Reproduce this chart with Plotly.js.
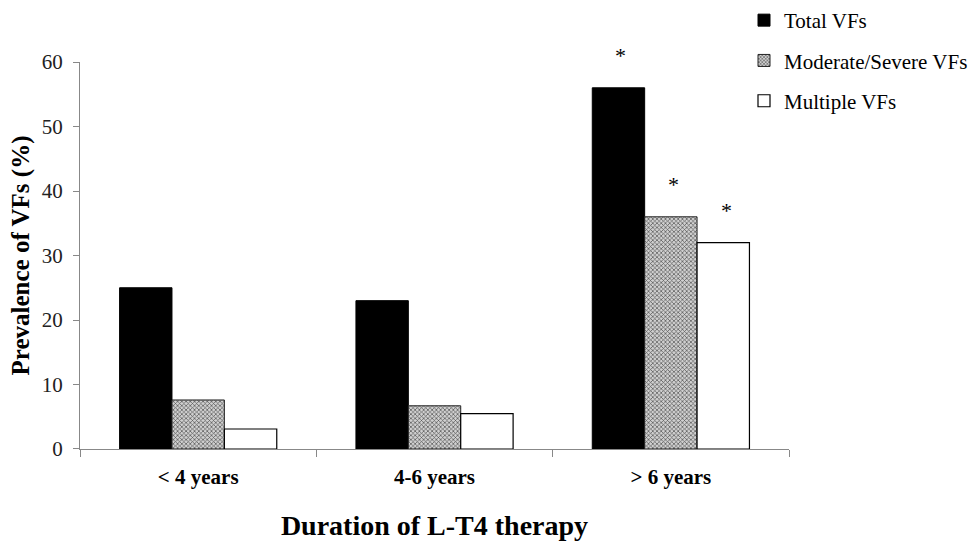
<!DOCTYPE html>
<html>
<head>
<meta charset="utf-8">
<script src="https://cdn.plot.ly/plotly-3.0.1.min.js"></script>
<style>html,body{margin:0;padding:0;background:#fff;}#chart{width:973px;height:543px;}</style>
</head>
<body>
<div id="chart"></div>
<script>
const categories = ["< 4 years", "4-6 years", "> 6 years"];
const seriesNames = ["Total VFs", "Moderate/Severe VFs", "Multiple VFs"];
const totalVFs = [25, 23, 56];
const moderateSevereVFs = [7.6, 6.7, 36];
const multipleVFs = [3.1, 5.5, 32];
const yTicks = [0, 10, 20, 30, 40, 50, 60];
const sigMarks = [["", "", "*"], ["", "", "*"], ["", "", "*"]];

const serif = "Liberation Serif, Times New Roman, serif";
const seriesValues = [totalVFs, moderateSevereVFs, multipleVFs];

const traces = [
  {type: "bar", name: seriesNames[0], x: categories, y: totalVFs, legendgroup: "a",
   marker: {color: "#000000", line: {color: "#000000", width: 1}}},
  {type: "bar", name: seriesNames[1], x: categories, y: moderateSevereVFs, legendgroup: "b",
   marker: {color: "#ffffff", line: {color: "#222222", width: 1},
            pattern: {shape: "x", size: 3, solidity: 0.4, fgcolor: "#505050", bgcolor: "#d0d0d0"}}},
  {type: "bar", name: seriesNames[2], x: categories, y: multipleVFs, legendgroup: "c",
   marker: {color: "#ffffff", line: {color: "#000000", width: 1.2}}}
];

const offsets = [-53, 0, 53];
const annotations = [];
for (let s = 0; s < 3; s++) {
  for (let c = 0; c < categories.length; c++) {
    if (sigMarks[s][c]) {
      annotations.push({x: categories[c], y: seriesValues[s][c], xref: "x", yref: "y",
        text: sigMarks[s][c], showarrow: false, xshift: offsets[s] + 3, yshift: 18,
        yanchor: "bottom", font: {family: serif, size: 22, color: "#000"}});
    }
  }
}

const layout = {
  width: 973, height: 543,
  margin: {l: 80, r: 0, t: 0, b: 94},
  paper_bgcolor: "#fff", plot_bgcolor: "#fff",
  barmode: "group", bargap: 0.335, bargroupgap: 0,
  showlegend: true,
  legend: {x: 1.0, xanchor: "right", y: 1.0, yanchor: "top", xref: "paper", yref: "paper",
    font: {family: serif, size: 21, color: "#000"}, tracegroupgap: 10, itemwidth: 30,
    bgcolor: "rgba(0,0,0,0)"},
  font: {family: serif, color: "#000"},
  xaxis: {type: "category", domain: [0, 0.794], tickson: "boundaries", ticks: "outside", ticklen: 7, tickcolor: "#888",
    showline: true, linecolor: "#888", linewidth: 1, showgrid: false, zeroline: false,
    tickfont: {family: serif, size: 21, color: "#000", weight: "bold"}, ticklabelstandoff: 9,
    title: {text: "<b>Duration of L-T4 therapy</b>", font: {family: serif, size: 28, color: "#000"}, standoff: 27}},
  yaxis: {range: [0, 60], domain: [0, 0.8619], tickvals: yTicks, ticks: "outside", ticklen: 6, tickcolor: "#888",
    showline: true, linecolor: "#888", linewidth: 1, showgrid: false, zeroline: false,
    tickfont: {family: serif, size: 21, color: "#222"}, ticklabelstandoff: 6,
    title: {text: "<b>Prevalence of VFs (%)</b>", font: {family: serif, size: 25, color: "#000"}, standoff: 5}},
  annotations: annotations
};

Plotly.newPlot("chart", traces, layout, {displayModeBar: false, staticPlot: true});
</script>
</body>
</html>
